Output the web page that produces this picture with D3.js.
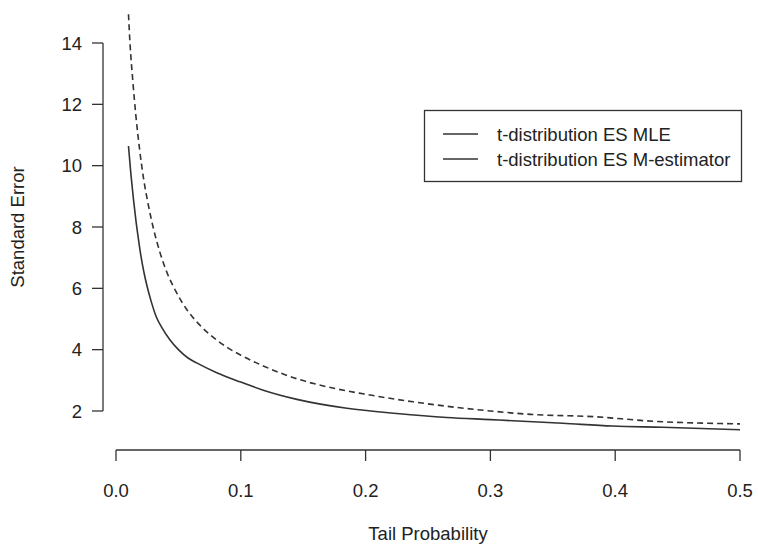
<!DOCTYPE html>
<html>
<head>
<meta charset="utf-8">
<script src="https://cdn.jsdelivr.net/npm/d3@7"></script>
<style>
  body { margin: 0; background: #fff; }
  svg { display: block; }
</style>
</head>
<body>
<div id="chart"></div>
<script>
// series
const solidProb = [0.01, 0.012, 0.014, 0.016, 0.018, 0.020, 0.0225, 0.025, 0.028, 0.032,
  0.037, 0.043, 0.05, 0.058, 0.0646, 0.0807, 0.0994, 0.118, 0.145, 0.185,
  0.225, 0.265, 0.30, 0.358, 0.398, 0.438, 0.5];
const solidSE = [10.64, 9.7, 8.9, 8.2, 7.6, 7.05, 6.5, 6.05, 5.6, 5.1,
  4.7, 4.33, 4.0, 3.72, 3.57, 3.25, 2.95, 2.68, 2.38, 2.09,
  1.92, 1.79, 1.72, 1.60, 1.51, 1.47, 1.39];

const dashedProb = [0.01, 0.0112, 0.0134, 0.016, 0.019, 0.022, 0.026, 0.03, 0.035, 0.041,
  0.048, 0.056, 0.066, 0.078, 0.09, 0.1, 0.118, 0.145, 0.177, 0.198,
  0.238, 0.30, 0.332, 0.385, 0.425, 0.5];
const dashedSE = [14.94, 14.0, 12.8, 11.6, 10.5, 9.6, 8.7, 7.95, 7.2, 6.5,
  5.9, 5.35, 4.85, 4.4, 4.05, 3.82, 3.47, 3.05, 2.72, 2.56,
  2.30, 2.00, 1.89, 1.81, 1.68, 1.58];

const xTicks = [0, 0.1, 0.2, 0.3, 0.4, 0.5];
const yTicks = [2, 4, 6, 8, 10, 12, 14];
const legendLabels = ["t-distribution ES MLE", "t-distribution ES M-estimator"];

const width = 758, height = 546;
const font = "'Liberation Sans', Arial, sans-serif";
const ink = "#333";
const fontSize = 18.5;

const svg = d3.select("#chart").append("svg")
  .attr("width", width)
  .attr("height", height)
  .attr("font-family", font);

// scales: 0.0 -> 116px, 0.5 -> 740px ; 2 -> 411px, 14 -> 43px
const x = d3.scaleLinear().domain([0, 0.5]).range([116, 740]);
const y = d3.scaleLinear().domain([2, 14]).range([411, 43]);

// y axis (R style, detached)
const yAxis = svg.append("g").attr("transform", "translate(103,0)");
yAxis.append("line")
  .attr("x1", 0).attr("x2", 0)
  .attr("y1", y(2)).attr("y2", y(14))
  .attr("stroke", ink).attr("stroke-width", 1.3);
yAxis.selectAll("line.tick").data(yTicks).join("line")
  .attr("class", "tick")
  .attr("x1", -11).attr("x2", 0)
  .attr("y1", d => y(d)).attr("y2", d => y(d))
  .attr("stroke", ink).attr("stroke-width", 1.3);
yAxis.selectAll("text").data(yTicks).join("text")
  .attr("x", -21)
  .attr("y", d => y(d))
  .attr("dy", "0.36em")
  .attr("text-anchor", "end")
  .attr("font-size", fontSize)
  .attr("fill", "#222")
  .text(d => d);

// x axis
const xAxis = svg.append("g").attr("transform", "translate(0,450)");
xAxis.append("line")
  .attr("x1", x(0)).attr("x2", x(0.5))
  .attr("y1", 0).attr("y2", 0)
  .attr("stroke", ink).attr("stroke-width", 1.3);
xAxis.selectAll("line.tick").data(xTicks).join("line")
  .attr("class", "tick")
  .attr("x1", d => x(d)).attr("x2", d => x(d))
  .attr("y1", 0).attr("y2", 11)
  .attr("stroke", ink).attr("stroke-width", 1.3);
xAxis.selectAll("text").data(xTicks).join("text")
  .attr("x", d => x(d))
  .attr("y", 47)
  .attr("text-anchor", "middle")
  .attr("font-size", fontSize)
  .attr("fill", "#222")
  .text(d => d3.format(".1f")(d));

// axis titles
svg.append("text")
  .attr("x", x(0.25))
  .attr("y", 540)
  .attr("text-anchor", "middle")
  .attr("font-size", fontSize)
  .attr("fill", "#222")
  .text("Tail Probability");

svg.append("text")
  .attr("transform", `translate(24,${(y(2) + y(14)) / 2}) rotate(-90)`)
  .attr("text-anchor", "middle")
  .attr("font-size", fontSize)
  .attr("fill", "#222")
  .text("Standard Error");

// curves
const line = d3.line()
  .x(d => x(d[0]))
  .y(d => y(d[1]))
  .curve(d3.curveMonotoneX);

svg.append("path")
  .datum(d3.zip(dashedProb, dashedSE))
  .attr("d", line)
  .attr("fill", "none")
  .attr("stroke", ink)
  .attr("stroke-width", 1.6)
  .attr("stroke-dasharray", "6,4");

svg.append("path")
  .datum(d3.zip(solidProb, solidSE))
  .attr("d", line)
  .attr("fill", "none")
  .attr("stroke", ink)
  .attr("stroke-width", 1.6);

// legend (both keys drawn solid, as in the original)
const legend = svg.append("g");
legend.append("rect")
  .attr("x", 424.5).attr("y", 110.5)
  .attr("width", 317).attr("height", 71)
  .attr("fill", "#fff")
  .attr("stroke", ink).attr("stroke-width", 1.3);
const rows = legend.selectAll("g.row").data(legendLabels).join("g")
  .attr("class", "row")
  .attr("transform", (d, i) => `translate(0,${134 + i * 25})`);
rows.append("line")
  .attr("x1", 443).attr("x2", 478)
  .attr("y1", 0).attr("y2", 0)
  .attr("stroke", ink).attr("stroke-width", 1.6);
rows.append("text")
  .attr("x", 497)
  .attr("dy", "0.36em")
  .attr("font-size", fontSize)
  .attr("fill", "#222")
  .text(d => d);
</script>
</body>
</html>
